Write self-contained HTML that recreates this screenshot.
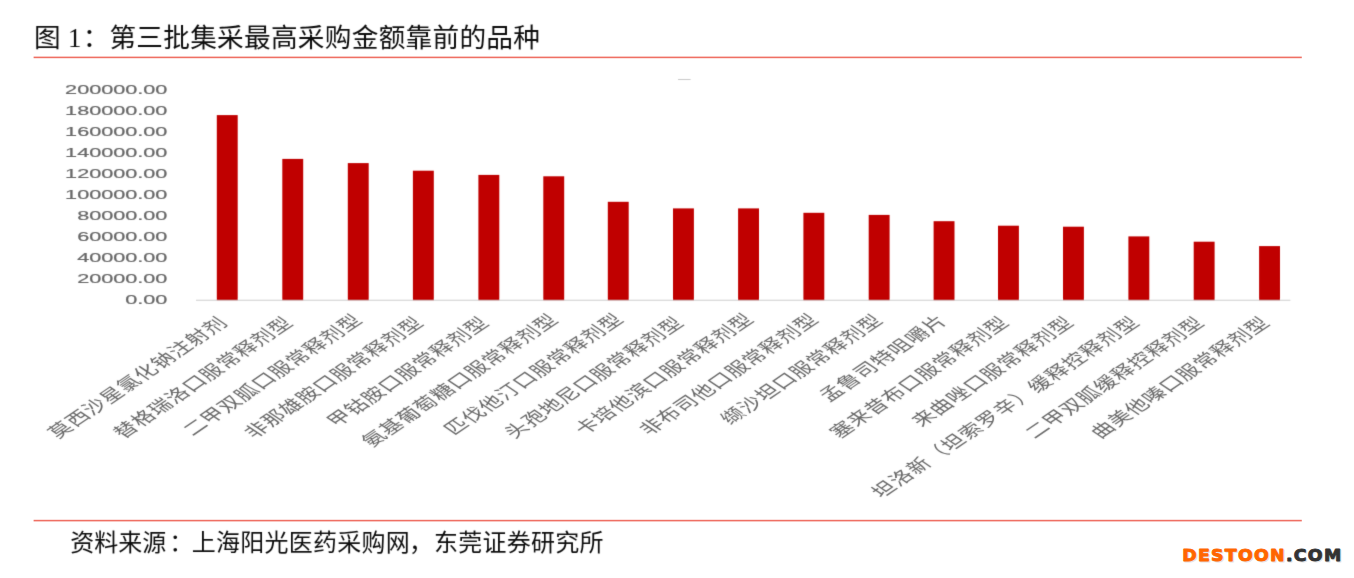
<!DOCTYPE html>
<html lang="zh-CN">
<head>
<meta charset="utf-8">
<title>图 1：第三批集采最高采购金额靠前的品种</title>
<style>
html,body{margin:0;padding:0;background:#fff;}
body{width:1354px;height:578px;overflow:hidden;position:relative;}
svg{position:absolute;left:0;top:0;display:block;}
.cjk{font-family:"Liberation Sans","Noto Sans CJK SC",sans-serif;}
.ttl{font-size:26.67px;fill:#111;}
.src{font-size:24px;fill:#111;}
.num{font-family:"Liberation Serif","Noto Serif CJK SC",serif;}
.yl{font-family:"Liberation Sans",sans-serif;font-size:13.3px;fill:#686868;stroke:#686868;stroke-width:0.22px;text-anchor:end;}
.xl{font-family:"Liberation Sans","Noto Sans CJK SC",sans-serif;font-weight:400;font-size:15.4px;fill:#6a6a6a;letter-spacing:0.6px;text-anchor:end;}
.wm{font-family:"DejaVu Sans","Liberation Sans",sans-serif;font-weight:bold;font-size:16.6px;letter-spacing:1.25px;stroke-width:0.9px;stroke-linejoin:round;}
</style>
</head>
<body>
<svg width="1354" height="578" viewBox="0 0 1354 578">
<rect x="0" y="0" width="1354" height="578" fill="#ffffff"/>

<defs><filter id="soft" x="-2%" y="-2%" width="104%" height="104%"><feConvolveMatrix order="3" kernelMatrix="0.011 0.084 0.011 0.084 0.62 0.084 0.011 0.084 0.011" divisor="1" edgeMode="duplicate" preserveAlpha="false"/></filter></defs>
<g filter="url(#soft)">
<text class="cjk ttl" x="34.0" y="46.8">图</text>
<text class="num ttl" x="68" y="46.8">1</text>
<text class="cjk ttl" x="82.7" y="46.8">：</text>
<text class="cjk ttl" x="109.4" y="46.8" letter-spacing="0.27">第三批集采最高采购金额靠前的品种</text>
</g>
<rect x="33.6" y="56.6" width="1268.2" height="1.6" fill="#ef7064"/>
<rect x="33.6" y="519.8" width="1268.2" height="1.6" fill="#ef7064"/>
<text filter="url(#soft)" class="cjk src" x="70.2" y="551.2">资料来源<tspan dx="3">：</tspan><tspan dx="-1.4" letter-spacing="0.25">上海阳光医药采购网<tspan dx="-1">，</tspan><tspan dx="0.8">东莞证券研究所</tspan></tspan></text>
<g filter="url(#soft)">
<rect x="678" y="79.2" width="12.6" height="0.8" fill="#bdbdbd"/>
<text class="yl" transform="translate(167.40 94.25) scale(1.628 1)">200000.00</text>
<text class="yl" transform="translate(167.40 115.22) scale(1.628 1)">180000.00</text>
<text class="yl" transform="translate(167.40 136.19) scale(1.628 1)">160000.00</text>
<text class="yl" transform="translate(167.40 157.16) scale(1.628 1)">140000.00</text>
<text class="yl" transform="translate(167.40 178.13) scale(1.628 1)">120000.00</text>
<text class="yl" transform="translate(167.40 199.10) scale(1.628 1)">100000.00</text>
<text class="yl" transform="translate(167.40 220.07) scale(1.628 1)">80000.00</text>
<text class="yl" transform="translate(167.40 241.04) scale(1.628 1)">60000.00</text>
<text class="yl" transform="translate(167.40 262.01) scale(1.628 1)">40000.00</text>
<text class="yl" transform="translate(167.40 282.98) scale(1.628 1)">20000.00</text>
<text class="yl" transform="translate(167.40 303.95) scale(1.628 1)">0.00</text>
<rect x="196" y="299.7" width="1094.4" height="1.2" fill="#d6d6d6"/>
<rect x="216.80" y="115.10" width="20.90" height="185.05" fill="#c00000"/>
<rect x="282.30" y="158.90" width="20.90" height="141.25" fill="#c00000"/>
<rect x="347.80" y="163.10" width="20.90" height="137.05" fill="#c00000"/>
<rect x="412.90" y="170.70" width="20.90" height="129.45" fill="#c00000"/>
<rect x="478.40" y="174.90" width="20.90" height="125.25" fill="#c00000"/>
<rect x="543.30" y="176.30" width="20.90" height="123.85" fill="#c00000"/>
<rect x="607.80" y="201.80" width="20.90" height="98.35" fill="#c00000"/>
<rect x="673.00" y="208.40" width="20.90" height="91.75" fill="#c00000"/>
<rect x="738.10" y="208.40" width="20.90" height="91.75" fill="#c00000"/>
<rect x="803.40" y="212.80" width="20.90" height="87.35" fill="#c00000"/>
<rect x="868.70" y="214.90" width="20.90" height="85.25" fill="#c00000"/>
<rect x="933.60" y="221.20" width="20.90" height="78.95" fill="#c00000"/>
<rect x="998.00" y="225.70" width="20.90" height="74.45" fill="#c00000"/>
<rect x="1063.00" y="226.70" width="20.90" height="73.45" fill="#c00000"/>
<rect x="1128.40" y="236.40" width="20.90" height="63.75" fill="#c00000"/>
<rect x="1193.70" y="241.70" width="20.90" height="58.45" fill="#c00000"/>
<rect x="1259.10" y="246.10" width="20.90" height="54.05" fill="#c00000"/>
<text class="xl" transform="translate(229.05 323.60) scale(1.512 1.022) rotate(-45)">莫西沙星氯化钠注射剂</text>
<text class="xl" transform="translate(294.55 323.60) scale(1.512 1.022) rotate(-45)">替格瑞洛口服常释剂型</text>
<text class="xl" transform="translate(363.85 321.03) scale(1.512 1.022) rotate(-45)">二甲双胍口服常释剂型</text>
<text class="xl" transform="translate(425.15 323.60) scale(1.512 1.022) rotate(-45)">非那雄胺口服常释剂型</text>
<text class="xl" transform="translate(490.65 323.60) scale(1.512 1.022) rotate(-45)">甲钴胺口服常释剂型</text>
<text class="xl" transform="translate(559.85 320.69) scale(1.512 1.022) rotate(-45)">氨基葡萄糖口服常释剂型</text>
<text class="xl" transform="translate(625.05 320.22) scale(1.512 1.022) rotate(-45)">匹伐他汀口服常释剂型</text>
<text class="xl" transform="translate(685.25 323.60) scale(1.512 1.022) rotate(-45)">头孢地尼口服常释剂型</text>
<text class="xl" transform="translate(755.35 320.22) scale(1.512 1.022) rotate(-45)">卡培他滨口服常释剂型</text>
<text class="xl" transform="translate(820.15 320.56) scale(1.512 1.022) rotate(-45)">非布司他口服常释剂型</text>
<text class="xl" transform="translate(884.45 321.23) scale(1.512 1.022) rotate(-45)">缬沙坦口服常释剂型</text>
<text class="xl" transform="translate(948.85 321.57) scale(1.512 1.022) rotate(-45)">孟鲁司特咀嚼片</text>
<text class="xl" transform="translate(1010.65 323.33) scale(1.512 1.022) rotate(-45)">塞来昔布口服常释剂型</text>
<text class="xl" transform="translate(1075.45 323.46) scale(1.512 1.022) rotate(-45)">来曲唑口服常释剂型</text>
<text class="xl" transform="translate(1141.25 323.19) scale(1.512 1.022) rotate(-45)" style="letter-spacing:0.8px">坦洛新（坦索罗辛）缓释控释剂型</text>
<text class="xl" transform="translate(1205.95 323.60) scale(1.512 1.022) rotate(-45)">二甲双胍缓释控释剂型</text>
<text class="xl" transform="translate(1271.35 323.60) scale(1.512 1.022) rotate(-45)">曲美他嗪口服常释剂型</text>
</g>
<text class="wm" transform="translate(1183.2 562.4) scale(1.046 1)" fill="#e4e4e4" stroke="#e4e4e4">DESTOON.COM</text>
<text class="wm" transform="translate(1182.2 561.2) scale(1.046 1)"><tspan fill="#ff6600" stroke="#ff6600">DESTOON</tspan><tspan fill="#333333" stroke="#333333">.COM</tspan></text>
</svg>
</body>
</html>
